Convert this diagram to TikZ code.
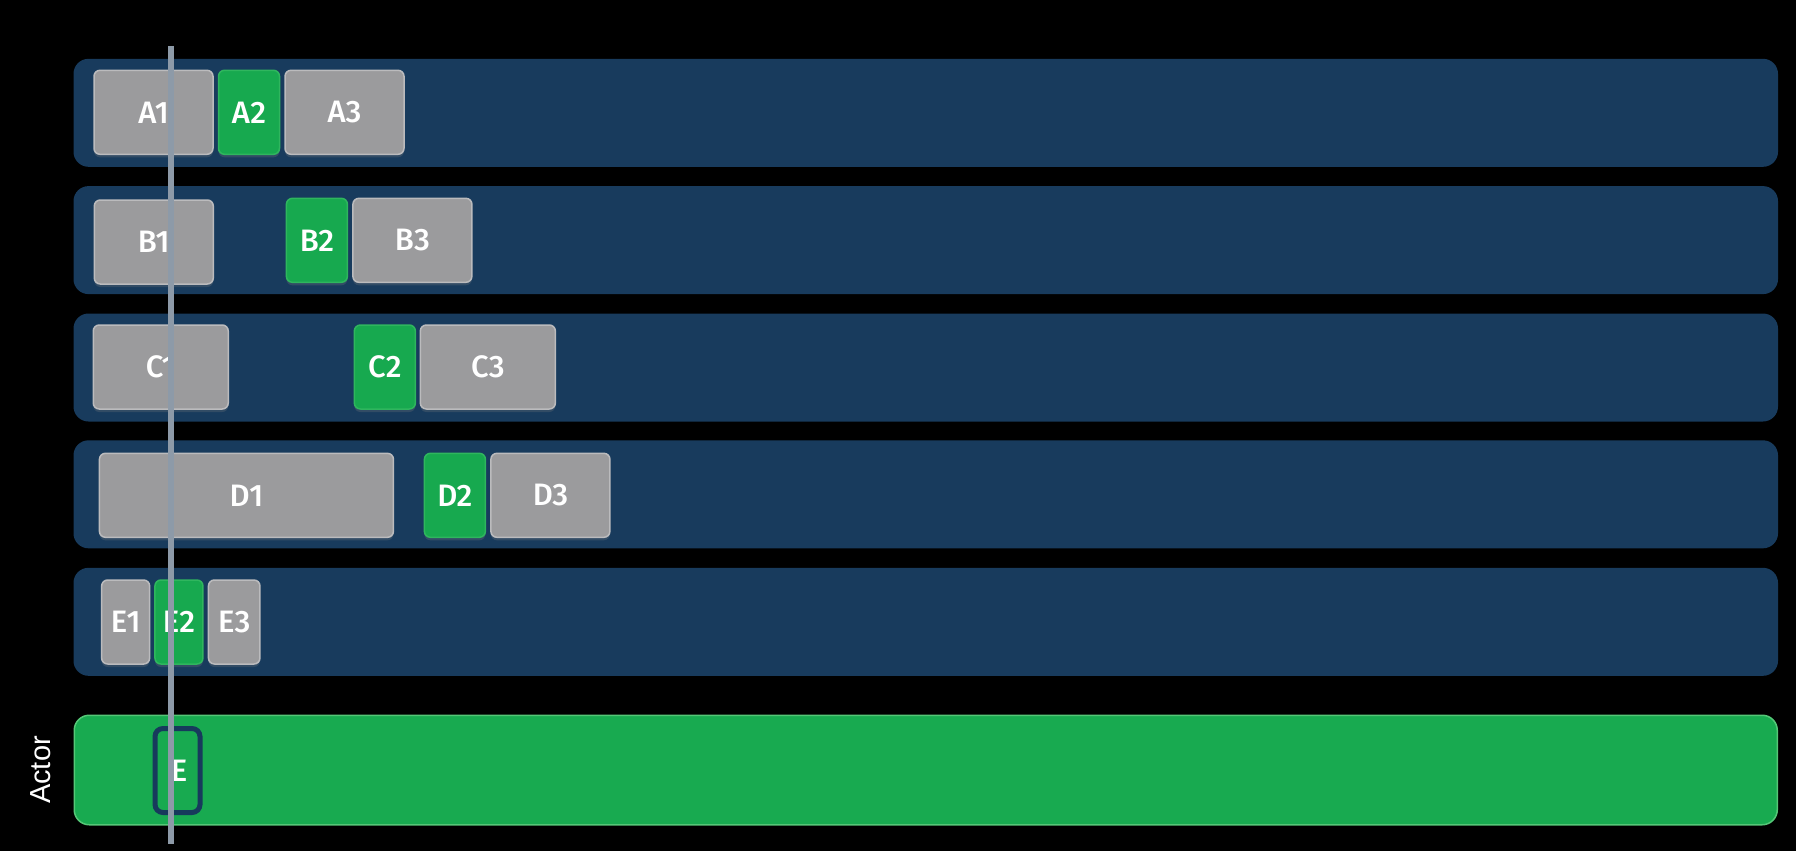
\documentclass[tikz,border=0pt]{standalone}
\usepackage{fontspec}
\setmainfont{Liberation Sans}
\newfontfamily\segfont{Fira Sans Medium}
\usetikzlibrary{positioning,shadows}
\definecolor{lanebg}{HTML}{183B5D}
\definecolor{seggray}{HTML}{9B9B9D}
\definecolor{segedge}{HTML}{BBBBBD}
\definecolor{seggreen}{HTML}{17A94F}
\definecolor{greenedge}{HTML}{2FB65E}
\definecolor{actorgreen}{HTML}{18AA50}
\definecolor{actoredge}{HTML}{55C777}
\definecolor{headline}{HTML}{8D9AA8}
\definecolor{navy}{HTML}{173A5C}

\begin{document}
\begin{tikzpicture}[x=1pt,y=-1pt,node distance=4pt,
    font=\fontsize{29}{30}\selectfont,
    lane/.style={fill=lanebg,rounded corners=15pt,minimum width=1704.5pt,
      minimum height=108pt,inner sep=0pt},
    seg/.style={draw=segedge,fill=seggray,line width=1.5pt,rounded corners=6pt,
      minimum height=84pt,minimum width=119pt,inner sep=0pt,text=white,
      font=\segfont\fontsize{31}{32}\selectfont,
      drop shadow={shadow xshift=0pt,shadow yshift=-3pt,opacity=0.25}},
    active/.style={seg,draw=greenedge,fill=seggreen,minimum width=61pt},
    actorlane/.style={fill=actorgreen,draw=actoredge,line width=1.5pt,
      rounded corners=15pt,minimum width=1703pt,minimum height=109.5pt,inner sep=0pt},
    cursor/.style={draw=navy,line width=5pt,rounded corners=8pt,text=white,
      font=\segfont\fontsize{31}{32}\selectfont,
      minimum width=45pt,minimum height=84pt,inner sep=0pt},
    playhead/.style={draw=headline,line width=5.5pt}]
  \fill[black] (0,0) rectangle (1796,851);
  \useasboundingbox (0,0) rectangle (1796,851);

  % tracks
  \foreach \n/\y in {A/112.8,B/240.1,C/367.5,D/494.3,E/621.8}
    \node[lane] (lane\n) at (925.75,\y) {};
  \node[actorlane] (laneActor) at (925.75,770) {};
  \node[rotate=90,text=white] (actor) at (41,770) {Actor};

  % row A
  \node[seg] (a1) at (153.5,112.3) {A1};
  \node[active,right=of a1] (a2) {A2};
  \node[seg,right=of a2] (a3) {A3};

  % row B
  \node[seg] (b1) at (153.8,242) {B1};
  \node[active] (b2) at (316.9,240.3) {B2};
  \node[seg,right=of b2] (b3) {B3};

  % row C
  \node[seg,minimum width=135pt] (c1) at (160.75,367) {C1};
  \node[active] (c2) at (384.85,367) {C2};
  \node[seg,minimum width=135pt,right=3.5pt of c2] (c3) {C3};

  % row D
  \node[seg,minimum width=294pt] (d1) at (246.45,495.3) {D1};
  \node[active] (d2) at (454.9,495.3) {D2};
  \node[seg,right=of d2] (d3) {D3};

  % row E
  \node[seg,minimum width=48pt] (e1) at (125.65,622) {E1};
  \node[active,minimum width=48pt,right=3.8pt of e1] (e2) {E2};
  \node[seg,minimum width=51.5pt,right=of e2] (e3) {E3};

  % actor cursor
  \node[cursor] (cur) at (177.5,770.5) {\hspace{3pt}E};

  \coordinate (headtop) at (171,46);
  \coordinate (headbot) at (171,844);
  \draw[playhead] (headtop) -- (headbot);
\end{tikzpicture}
\end{document}
